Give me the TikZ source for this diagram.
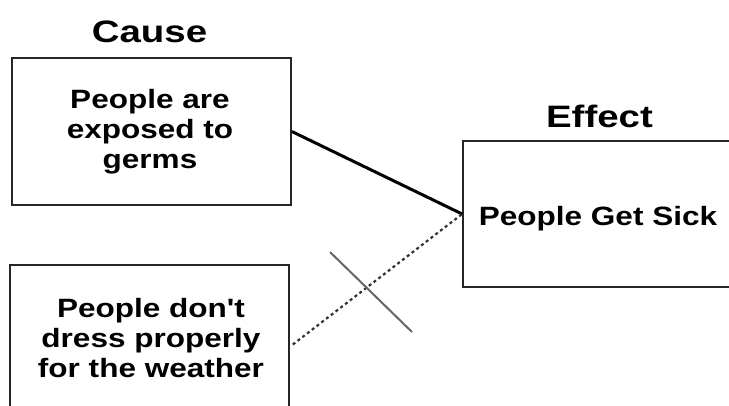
\documentclass[tikz,border=0pt]{standalone}
\usepackage{fontspec}
\setmainfont{Liberation Sans}[Ligatures=TeXOff]
\usepackage{graphicx}
\newcommand{\widetxt}[1]{\scalebox{1.19}[1]{#1}}
\newcommand{\widehead}[1]{\scalebox{1.24}[1]{#1}}
\begin{document}
\begin{tikzpicture}[x=1pt,y=-1pt,
  box/.style={draw=black!85, line width=1.7pt, inner sep=0pt},
  head/.style={font=\fontsize{31}{36}\selectfont\bfseries, anchor=base, inner sep=0pt},
  txt/.style={font=\fontsize{26.5}{30}\selectfont\bfseries, inner sep=0pt, anchor=center},
  causal/.style={draw=black, line width=3pt},
  weak/.style={draw=black!80, line width=2.2pt, dash pattern=on 3pt off 3pt},
  strike/.style={draw=black!60, line width=2pt}]
\useasboundingbox (0,0) rectangle (729,405);
\clip (0,0) rectangle (729,405);
\fill[white] (0,0) rectangle (729,405);
% boxes
\node[box, minimum width=279pt, minimum height=147pt] (box1) at (151.5,131.5) {};
\node[box, minimum width=279pt, minimum height=151pt] (box2) at (149.5,340.5) {};
\node[box, minimum width=278pt, minimum height=146pt] (box3) at (602,214) {};
% headers
\node[head] (cause) at (149.5,42) {\widehead{Cause}};
\node[head] (effect) at (599.5,127) {\widehead{Effect}};
% texts
\node[txt] (t1) at (150,132) {\widetxt{\begin{tabular}{@{}c@{}}People are\\exposed to\\germs\end{tabular}}};
\node[txt] (t2) at (151,341) {\widetxt{\begin{tabular}{@{}c@{}}People don't\\dress properly\\for the weather\end{tabular}}};
\node[txt] (t3) at (598,219) {\widetxt{\begin{tabular}{@{}c@{}}People Get Sick\end{tabular}}};
% connectors
\draw[causal] (box1.east) -- (box3.west);
\draw[weak] ([xshift=3pt,yshift=-4pt]box2.east) -- (box3.west);
\coordinate (x1) at (330,252);
\coordinate (x2) at (412,332);
\draw[strike] (x1) -- (x2);
\end{tikzpicture}
\end{document}
